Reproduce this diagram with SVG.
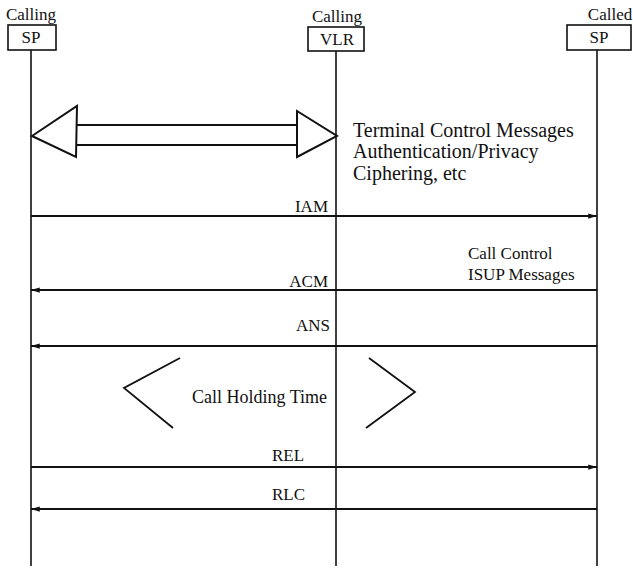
<svg xmlns="http://www.w3.org/2000/svg" width="633" height="568" viewBox="0 0 633 568">
<defs>
<style>
text{font-family:"Liberation Serif","Times New Roman",serif;font-size:17px;fill:#111}
.big{font-size:20px}
.hold{font-size:18px}
.box{fill:#fff;stroke:#111;stroke-width:1.6}
.life{stroke:#111;stroke-width:1.6;fill:none}
.msg{stroke:#111;stroke-width:1.8;fill:none}
.shape{stroke:#111;stroke-width:2;fill:#fff;stroke-linejoin:miter}
.chev{stroke:#111;stroke-width:1.8;fill:none}
.mid{text-anchor:middle}
.end{text-anchor:end}
</style>
<marker id="ah" viewBox="0 0 10 8" refX="10" refY="4" markerWidth="9" markerHeight="7" markerUnits="userSpaceOnUse" orient="auto">
<path d="M0,1 L10,4 L0,7 Z" fill="#111"/>
</marker>
</defs>
<g id="lifelines">
<line class="life" x1="31" y1="50" x2="31" y2="566"/>
<line class="life" x1="336" y1="51" x2="336" y2="566"/>
<line class="life" x1="597" y1="50" x2="597" y2="566"/>
</g>
<g id="node-calling-sp">
<text x="31" y="20" class="mid">Calling</text>
<rect class="box" x="8" y="25" width="48" height="25"/>
<text x="31" y="43" class="mid">SP</text>
</g>
<g id="node-calling-vlr">
<text x="337" y="22" class="mid">Calling</text>
<rect class="box" x="308" y="27" width="56" height="24"/>
<text x="337" y="45" class="mid">VLR</text>
</g>
<g id="node-called-sp">
<text x="610" y="20" class="mid">Called</text>
<rect class="box" x="567" y="25" width="64" height="25"/>
<text x="599" y="43" class="mid">SP</text>
</g>
<g id="terminal-control">
<line class="shape" x1="77" y1="125" x2="297" y2="125"/>
<line class="shape" x1="77" y1="145" x2="297" y2="145"/>
<polygon class="shape" points="32,136 77,106 76,157"/>
<polygon class="shape" points="297,111 337,136 297,157"/>
<text x="353" y="137" class="big">Terminal Control Messages</text>
<text x="353" y="158" class="big">Authentication/Privacy</text>
<text x="353" y="180" class="big">Ciphering, etc</text>
</g>
<g id="connectors">
<line class="msg" x1="31" y1="216" x2="597" y2="216" marker-end="url(#ah)"/>
<text x="328" y="212" class="end">IAM</text>
<line class="msg" x1="597" y1="290" x2="31" y2="290" marker-end="url(#ah)"/>
<text x="328" y="287" class="end">ACM</text>
<line class="msg" x1="597" y1="346" x2="31" y2="346" marker-end="url(#ah)"/>
<text x="330" y="331" class="end">ANS</text>
<line class="msg" x1="31" y1="467" x2="597" y2="467" marker-end="url(#ah)"/>
<text x="272" y="461">REL</text>
<line class="msg" x1="597" y1="509" x2="31" y2="509" marker-end="url(#ah)"/>
<text x="272" y="500">RLC</text>
</g>
<g id="call-control">
<text x="468" y="259">Call Control</text>
<text x="468" y="280">ISUP Messages</text>
</g>
<g id="call-holding">
<polyline class="chev" points="180,358 124,388 173,428"/>
<polyline class="chev" points="369,358 415,392 366,428"/>
<text x="192" y="403" class="hold">Call Holding Time</text>
</g>
</svg>
